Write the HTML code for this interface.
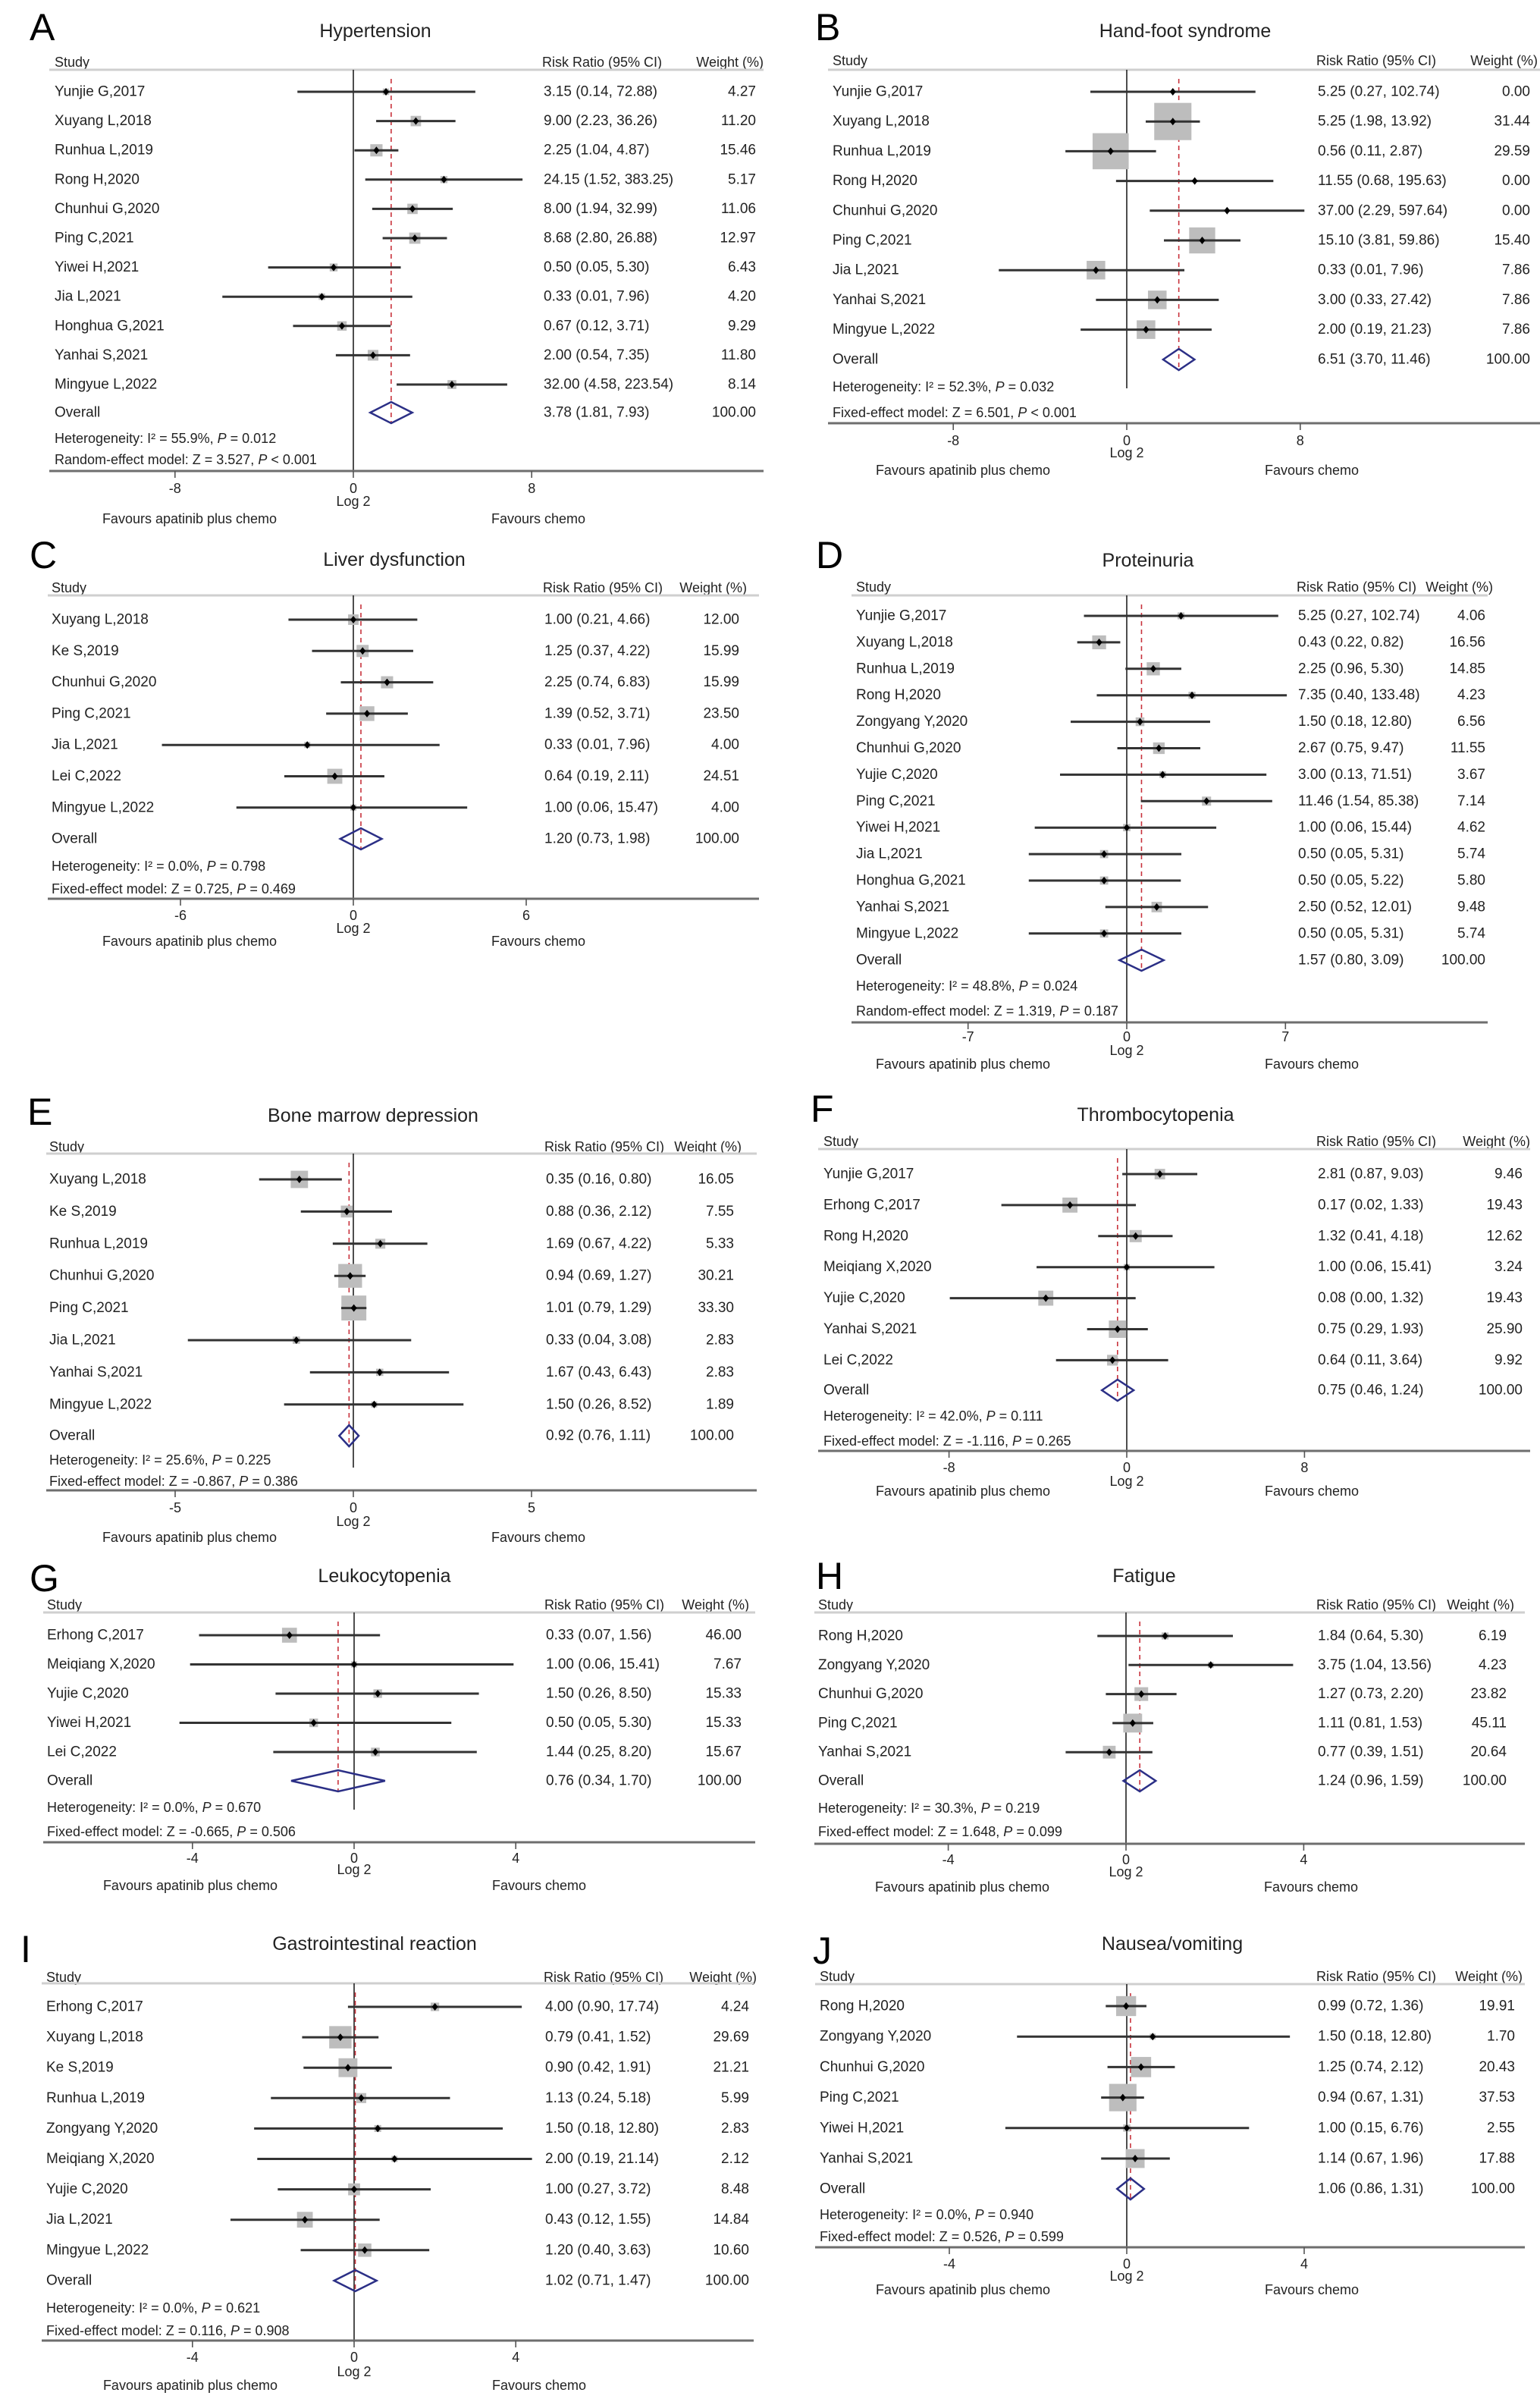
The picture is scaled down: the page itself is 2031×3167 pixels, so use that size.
<!DOCTYPE html>
<html><head><meta charset="utf-8">
<style>
html,body{margin:0;padding:0;background:#fff;}
svg{display:block;}
text{font-family:"Liberation Sans Narrow","Liberation Sans",sans-serif;fill:#222;}
</style></head>
<body>
<svg id="fig" width="2031" height="3167" viewBox="0 0 2031 3167" xmlns="http://www.w3.org/2000/svg"></svg>
<script>
// ---------- DATA ----------
const A_studies=["Yunjie G,2017","Xuyang L,2018","Runhua L,2019","Rong H,2020","Chunhui G,2020","Ping C,2021","Yiwei H,2021","Jia L,2021","Honghua G,2021","Yanhai S,2021","Mingyue L,2022"];
const A_rr=[3.15,9.00,2.25,24.15,8.00,8.68,0.50,0.33,0.67,2.00,32.00];
const A_lo=[0.14,2.23,1.04,1.52,1.94,2.80,0.05,0.01,0.12,0.54,4.58];
const A_hi=[72.88,36.26,4.87,383.25,32.99,26.88,5.30,7.96,3.71,7.35,223.54];
const A_weight=[4.27,11.20,15.46,5.17,11.06,12.97,6.43,4.20,9.29,11.80,8.14];
const A_overall=[3.78,1.81,7.93];
const A_ticks=[-8,0,8];

const B_studies=["Yunjie G,2017","Xuyang L,2018","Runhua L,2019","Rong H,2020","Chunhui G,2020","Ping C,2021","Jia L,2021","Yanhai S,2021","Mingyue L,2022"];
const B_rr=[5.25,5.25,0.56,11.55,37.00,15.10,0.33,3.00,2.00];
const B_lo=[0.27,1.98,0.11,0.68,2.29,3.81,0.01,0.33,0.19];
const B_hi=[102.74,13.92,2.87,195.63,597.64,59.86,7.96,27.42,21.23];
const B_weight=[0.00,31.44,29.59,0.00,0.00,15.40,7.86,7.86,7.86];
const B_overall=[6.51,3.70,11.46];
const B_ticks=[-8,0,8];

const C_studies=["Xuyang L,2018","Ke S,2019","Chunhui G,2020","Ping C,2021","Jia L,2021","Lei C,2022","Mingyue L,2022"];
const C_rr=[1.00,1.25,2.25,1.39,0.33,0.64,1.00];
const C_lo=[0.21,0.37,0.74,0.52,0.01,0.19,0.06];
const C_hi=[4.66,4.22,6.83,3.71,7.96,2.11,15.47];
const C_weight=[12.00,15.99,15.99,23.50,4.00,24.51,4.00];
const C_overall=[1.20,0.73,1.98];
const C_ticks=[-6,0,6];

const D_studies=["Yunjie G,2017","Xuyang L,2018","Runhua L,2019","Rong H,2020","Zongyang Y,2020","Chunhui G,2020","Yujie C,2020","Ping C,2021","Yiwei H,2021","Jia L,2021","Honghua G,2021","Yanhai S,2021","Mingyue L,2022"];
const D_rr=[5.25,0.43,2.25,7.35,1.50,2.67,3.00,11.46,1.00,0.50,0.50,2.50,0.50];
const D_lo=[0.27,0.22,0.96,0.40,0.18,0.75,0.13,1.54,0.06,0.05,0.05,0.52,0.05];
const D_hi=[102.74,0.82,5.30,133.48,12.80,9.47,71.51,85.38,15.44,5.31,5.22,12.01,5.31];
const D_weight=[4.06,16.56,14.85,4.23,6.56,11.55,3.67,7.14,4.62,5.74,5.80,9.48,5.74];
const D_overall=[1.57,0.80,3.09];
const D_ticks=[-7,0,7];

const E_studies=["Xuyang L,2018","Ke S,2019","Runhua L,2019","Chunhui G,2020","Ping C,2021","Jia L,2021","Yanhai S,2021","Mingyue L,2022"];
const E_rr=[0.35,0.88,1.69,0.94,1.01,0.33,1.67,1.50];
const E_lo=[0.16,0.36,0.67,0.69,0.79,0.04,0.43,0.26];
const E_hi=[0.80,2.12,4.22,1.27,1.29,3.08,6.43,8.52];
const E_weight=[16.05,7.55,5.33,30.21,33.30,2.83,2.83,1.89];
const E_overall=[0.92,0.76,1.11];
const E_ticks=[-5,0,5];

const F_studies=["Yunjie G,2017","Erhong C,2017","Rong H,2020","Meiqiang X,2020","Yujie C,2020","Yanhai S,2021","Lei C,2022"];
const F_rr=[2.81,0.17,1.32,1.00,0.08,0.75,0.64];
const F_lo=[0.87,0.02,0.41,0.06,0.004,0.29,0.11];
const F_hi=[9.03,1.33,4.18,15.41,1.32,1.93,3.64];
const F_weight=[9.46,19.43,12.62,3.24,19.43,25.90,9.92];
const F_overall=[0.75,0.46,1.24];
const F_ticks=[-8,0,8];

const G_studies=["Erhong C,2017","Meiqiang X,2020","Yujie C,2020","Yiwei H,2021","Lei C,2022"];
const G_rr=[0.33,1.00,1.50,0.50,1.44];
const G_lo=[0.07,0.06,0.26,0.05,0.25];
const G_hi=[1.56,15.41,8.50,5.30,8.20];
const G_weight=[46.00,7.67,15.33,15.33,15.67];
const G_overall=[0.76,0.34,1.70];
const G_ticks=[-4,0,4];

const H_studies=["Rong H,2020","Zongyang Y,2020","Chunhui G,2020","Ping C,2021","Yanhai S,2021"];
const H_rr=[1.84,3.75,1.27,1.11,0.77];
const H_lo=[0.64,1.04,0.73,0.81,0.39];
const H_hi=[5.30,13.56,2.20,1.53,1.51];
const H_weight=[6.19,4.23,23.82,45.11,20.64];
const H_overall=[1.24,0.96,1.59];
const H_ticks=[-4,0,4];

const I_studies=["Erhong C,2017","Xuyang L,2018","Ke S,2019","Runhua L,2019","Zongyang Y,2020","Meiqiang X,2020","Yujie C,2020","Jia L,2021","Mingyue L,2022"];
const I_rr=[4.00,0.79,0.90,1.13,1.50,2.00,1.00,0.43,1.20];
const I_lo=[0.90,0.41,0.42,0.24,0.18,0.19,0.27,0.12,0.40];
const I_hi=[17.74,1.52,1.91,5.18,12.80,21.14,3.72,1.55,3.63];
const I_weight=[4.24,29.69,21.21,5.99,2.83,2.12,8.48,14.84,10.60];
const I_overall=[1.02,0.71,1.47];
const I_ticks=[-4,0,4];

const J_studies=["Rong H,2020","Zongyang Y,2020","Chunhui G,2020","Ping C,2021","Yiwei H,2021","Yanhai S,2021"];
const J_rr=[0.99,1.50,1.25,0.94,1.00,1.14];
const J_lo=[0.72,0.18,0.74,0.67,0.15,0.67];
const J_hi=[1.36,12.80,2.12,1.31,6.76,1.96];
const J_weight=[19.91,1.70,20.43,37.53,2.55,17.88];
const J_overall=[1.06,0.86,1.31];
const J_ticks=[-4,0,4];

// ---------- LAYOUT ----------
const panels=[
 {id:'A',title:'Hypertension',studies:A_studies,rr:A_rr,lo:A_lo,hi:A_hi,w:A_weight,ov:A_overall,ticks:A_ticks,
  het:['55.9%','0.012'],model:['Random-effect','3.527','< 0.001'],
  L:{lab:[39,36],tt:[495,41],hdr:82,line:92,lx:[65,1007],r0:121,dy:38.6,ovY:544,hetY:578,modY:606,bot:621,tickY:644,logY:661,favY:684,zx:466,ppu:29.4,dppu:26,sx:72,rrx:717,wr:997,k:4.1,vEnd:621}},
 {id:'B',title:'Hand-foot syndrome',studies:B_studies,rr:B_rr,lo:B_lo,hi:B_hi,w:B_weight,ov:B_overall,ticks:B_ticks,
  het:['52.3%','0.032'],model:['Fixed-effect','6.501','< 0.001'],
  L:{lab:[1075,36],tt:[1563,41],hdr:80,line:92,lx:[1092,2031],r0:121,dy:39.2,ovY:474,hetY:510,modY:544,bot:558,tickY:581,logY:597,favY:620,zx:1486,ppu:28.6,dppu:25.4,sx:1098,rrx:1738,wr:2018,k:8.75,vEnd:512}},
 {id:'C',title:'Liver dysfunction',studies:C_studies,rr:C_rr,lo:C_lo,hi:C_hi,w:C_weight,ov:C_overall,ticks:C_ticks,
  het:['0.0%','0.798'],model:['Fixed-effect','0.725','= 0.469'],
  L:{lab:[39,732],tt:[520,738],hdr:775,line:785,lx:[63,1001],r0:817,dy:41.3,ovY:1106,hetY:1142,modY:1172,bot:1185,tickY:1207,logY:1224,favY:1241,zx:466,ppu:38,sx:68,rrx:718,wr:975,k:4,vEnd:1185}},
 {id:'D',title:'Proteinuria',studies:D_studies,rr:D_rr,lo:D_lo,hi:D_hi,w:D_weight,ov:D_overall,ticks:D_ticks,
  het:['48.8%','0.024'],model:['Random-effect','1.319','= 0.187'],
  L:{lab:[1076,732],tt:[1514,739],hdr:774,line:785,lx:[1123,1962],r0:812,dy:34.9,ovY:1266,hetY:1300,modY:1333,bot:1348,tickY:1367,logY:1385,favY:1403,zx:1486,ppu:29.9,sx:1129,rrx:1712,wr:1959,k:4.5,vEnd:1348}},
 {id:'E',title:'Bone marrow depression',studies:E_studies,rr:E_rr,lo:E_lo,hi:E_hi,w:E_weight,ov:E_overall,ticks:E_ticks,
  het:['25.6%','0.225'],model:['Fixed-effect','-0.867','= 0.386'],
  L:{lab:[36,1466],tt:[492,1471],hdr:1512,line:1521,lx:[61,998],r0:1555,dy:42.4,ovY:1893,hetY:1925,modY:1953,bot:1965,tickY:1988,logY:2006,favY:2027,zx:466,ppu:47,sx:65,rrx:720,wr:968,k:5.7,vEnd:1935}},
 {id:'F',title:'Thrombocytopenia',studies:F_studies,rr:F_rr,lo:F_lo,hi:F_hi,w:F_weight,ov:F_overall,ticks:F_ticks,
  het:['42.0%','0.111'],model:['Fixed-effect','-1.116','= 0.265'],
  L:{lab:[1069,1462],tt:[1524,1470],hdr:1505,line:1515,lx:[1079,2018],r0:1548,dy:40.9,ovY:1833,hetY:1867,modY:1900,bot:1913,tickY:1935,logY:1953,favY:1966,zx:1486,ppu:29.3,sx:1086,rrx:1738,wr:2008,k:4.5,vEnd:1913}},
 {id:'G',title:'Leukocytopenia',studies:G_studies,rr:G_rr,lo:G_lo,hi:G_hi,w:G_weight,ov:G_overall,ticks:G_ticks,
  het:['0.0%','0.670'],model:['Fixed-effect','-0.665','= 0.506'],
  L:{lab:[39,2081],tt:[507,2078],hdr:2116,line:2126,lx:[57,996],r0:2156,dy:38.5,ovY:2348,hetY:2383,modY:2415,bot:2429,tickY:2450,logY:2465,favY:2486,zx:467,ppu:53.3,sx:62,rrx:720,wr:978,k:2.9,vEnd:2386}},
 {id:'H',title:'Fatigue',studies:H_studies,rr:H_rr,lo:H_lo,hi:H_hi,w:H_weight,ov:H_overall,ticks:H_ticks,
  het:['30.3%','0.219'],model:['Fixed-effect','1.648','= 0.099'],
  L:{lab:[1076,2078],tt:[1509,2078],hdr:2116,line:2126,lx:[1074,2011],r0:2157,dy:38.3,ovY:2348,hetY:2384,modY:2415,bot:2431,tickY:2452,logY:2468,favY:2488,zx:1485,ppu:58.6,sx:1079,rrx:1738,wr:1987,k:3.7,vEnd:2431}},
 {id:'I',title:'Gastrointestinal reaction',studies:I_studies,rr:I_rr,lo:I_lo,hi:I_hi,w:I_weight,ov:I_overall,ticks:I_ticks,
  het:['0.0%','0.621'],model:['Fixed-effect','0.116','= 0.908'],
  L:{lab:[27,2570],tt:[494,2563],hdr:2607,line:2615,lx:[55,994],r0:2646,dy:40.1,ovY:3007,hetY:3043,modY:3073,bot:3086,tickY:3108,logY:3127,favY:3145,zx:467,ppu:53.3,sx:61,rrx:719,wr:988,k:5.4,vEnd:3086}},
 {id:'J',title:'Nausea/vomiting',studies:J_studies,rr:J_rr,lo:J_lo,hi:J_hi,w:J_weight,ov:J_overall,ticks:J_ticks,
  het:['0.0%','0.940'],model:['Fixed-effect','0.526','= 0.599'],
  L:{lab:[1072,2572],tt:[1546,2563],hdr:2606,line:2616,lx:[1075,2011],r0:2645,dy:40.2,ovY:2886,hetY:2920,modY:2949,bot:2963,tickY:2985,logY:3001,favY:3019,zx:1486,ppu:58.5,sx:1081,rrx:1738,wr:1998,k:5.9,vEnd:2963}}
];

const NS='http://www.w3.org/2000/svg';
const svg=document.getElementById('fig');
function mk(parent,tag,attrs,txt){
  const e=document.createElementNS(NS,tag);
  for(const k in attrs) e.setAttribute(k,attrs[k]);
  if(txt!==undefined) e.textContent=txt;
  parent.appendChild(e);
  return e;
}
function fmt(v){return v.toFixed(2);}

panels.forEach(p=>{
  const L=p.L;
  const dp=L.dppu||L.ppu;
  const xs=v=>L.zx+Math.log2(v)*dp;
  const rowY=i=>L.r0+i*L.dy;
  const g=mk(svg,'g',{});
  
  

  let t=mk(g,'text',{x:L.lab[0],y:L.lab[1],'font-size':50,'dominant-baseline':'central',style:'font-family:"Liberation Sans",sans-serif;fill:#000'},p.id);
  
  
  t=mk(g,'text',{x:L.tt[0],y:L.tt[1],'font-size':25,'text-anchor':'middle','dominant-baseline':'central'},p.title);
  
  

  t=mk(g,'text',{x:L.sx,y:L.hdr,'font-size':18,'dominant-baseline':'central'},'Study');
  
  
  t=mk(g,'text',{x:L.rrx-2,y:L.hdr,'font-size':18,'dominant-baseline':'central'},'Risk Ratio (95% CI)');
  
  
  t=mk(g,'text',{x:L.wr+10,y:L.hdr,'font-size':18,'text-anchor':'end','dominant-baseline':'central'},'Weight (%)');
  
  
  let ln=mk(g,'line',{x1:L.lx[0],x2:L.lx[1],y1:L.line,y2:L.line,stroke:'#cfcfcf','stroke-width':3});
  
  

  ln=mk(g,'line',{x1:L.zx,x2:L.zx,y1:L.line,y2:L.vEnd,stroke:'#222','stroke-width':1.6});
  
  
  const px=xs(p.ov[0]);
  ln=mk(g,'line',{x1:px,x2:px,y1:L.line+12,y2:L.ovY+15,stroke:'#c8323c','stroke-width':1.6,'stroke-dasharray':'6,5'});
  
  

  p.studies.forEach((s,i)=>{
    const y=rowY(i);
    let e=mk(g,'text',{x:L.sx,y:y,'font-size':19,'dominant-baseline':'central'},s);
    
    
    const side=L.k*Math.sqrt(p.w[i]);
    if(side>0){
      e=mk(g,'rect',{x:xs(p.rr[i])-side/2,y:y-side/2,width:side,height:side,fill:'#bdbdbd'});
      
      
    }
    e=mk(g,'line',{x1:xs(p.lo[i]),x2:xs(p.hi[i]),y1:y,y2:y,stroke:'#333','stroke-width':3});
    
    
    const cx=xs(p.rr[i]);
    e=mk(g,'path',{d:`M${cx-4} ${y} L${cx} ${y-5} L${cx+4} ${y} L${cx} ${y+5} Z`,fill:'#000'});
    
    
    e=mk(g,'text',{x:L.rrx,y:y,'font-size':19,'dominant-baseline':'central'},`${fmt(p.rr[i])} (${fmt(p.lo[i])}, ${fmt(p.hi[i])})`);
    
    
    e=mk(g,'text',{x:L.wr,y:y,'font-size':19,'text-anchor':'end','dominant-baseline':'central'},fmt(p.w[i]));
    
    
  });

  let e=mk(g,'text',{x:L.sx,y:L.ovY,'font-size':19,'dominant-baseline':'central'},'Overall');
  
  
  const dl=xs(p.ov[1]),dr=xs(p.ov[2]);
  e=mk(g,'path',{d:`M${dl} ${L.ovY} L${px} ${L.ovY-14} L${dr} ${L.ovY} L${px} ${L.ovY+14} Z`,fill:'none',stroke:'#2b2f86','stroke-width':2.5});
  
  
  e=mk(g,'text',{x:L.rrx,y:L.ovY,'font-size':19,'dominant-baseline':'central'},`${fmt(p.ov[0])} (${fmt(p.ov[1])}, ${fmt(p.ov[2])})`);
  
  
  e=mk(g,'text',{x:L.wr,y:L.ovY,'font-size':19,'text-anchor':'end','dominant-baseline':'central'},'100.00');
  
  

  e=mk(g,'text',{x:L.sx,y:L.hetY,'font-size':18,'dominant-baseline':'central'});
  
  
  mk(e,'tspan',{},'Heterogeneity: I² = '+p.het[0]+', ');
  mk(e,'tspan',{'font-style':'italic'},'P');
  mk(e,'tspan',{},' = '+p.het[1]);
  e=mk(g,'text',{x:L.sx,y:L.modY,'font-size':18,'dominant-baseline':'central'});
  
  
  mk(e,'tspan',{},p.model[0]+' model: Z = '+p.model[1]+', ');
  mk(e,'tspan',{'font-style':'italic'},'P');
  mk(e,'tspan',{},' '+p.model[2]);

  ln=mk(g,'line',{x1:L.lx[0],x2:L.lx[1],y1:L.bot,y2:L.bot,stroke:'#6e6e6e','stroke-width':3});
  
  
  p.ticks.forEach(tv=>{
    const tx=L.zx+tv*L.ppu;
    let m=mk(g,'line',{x1:tx,x2:tx,y1:L.bot,y2:L.bot+9,stroke:'#555','stroke-width':1.6});
    
    
    m=mk(g,'text',{x:tx,y:L.tickY,'font-size':18,'text-anchor':'middle','dominant-baseline':'central'},String(tv));
    
    
  });
  e=mk(g,'text',{x:L.zx,y:L.logY,'font-size':18,'text-anchor':'middle','dominant-baseline':'central'},'Log 2');
  
  
  e=mk(g,'text',{x:L.zx-216,y:L.favY,'font-size':18,'text-anchor':'middle','dominant-baseline':'central'},'Favours apatinib plus chemo');
  
  
  e=mk(g,'text',{x:L.zx+244,y:L.favY,'font-size':18,'text-anchor':'middle','dominant-baseline':'central'},'Favours chemo');
  
  
});
</script>
</body></html>
